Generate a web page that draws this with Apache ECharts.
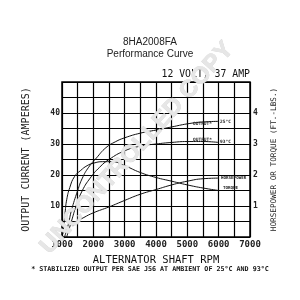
<!DOCTYPE html>
<html>
<head>
<meta charset="utf-8">
<script src="https://cdn.jsdelivr.net/npm/echarts@6/dist/echarts.min.js"></script>
<style>
html,body{margin:0;padding:0;background:#fff;}
#chart{width:300px;height:300px;}
</style>
</head>
<body>
<div id="chart"></div>
<script>
// 数据 (rpm, 值)
var out25 = [[1080,0],[1200,4],[1300,8.5],[1500,15],[1650,19],[1850,22.5],[2100,25.5],[2400,28.8],[2700,30.7],[3000,32],[3500,33.5],[4000,34.5],[4500,35.5],[5000,36.5],[5500,37.1],[6000,37.3]];
var out93 = [[1150,0],[1300,5],[1450,10],[1650,15],[1900,19],[2200,22.5],[2500,25],[3000,27.8],[3500,29.3],[4000,30],[4500,30.5],[5000,30.8],[5500,30.8],[6000,30.5]];
var torque = [[1030,1],[1100,8],[1150,12],[1250,16],[1400,19.5],[1600,21.5],[1800,23],[2000,23.8],[2300,24.3],[2600,24.3],[3000,23],[3500,20.8],[4000,19.2],[4500,18],[5000,16.8],[5500,15.8],[6000,15]];
var horsepower = [[1350,3.5],[1400,4.5],[1700,6.3],[2000,7.8],[2500,9.7],[3000,11.8],[3500,13.8],[4000,15.3],[4500,16.8],[5000,18],[5500,18.8],[6000,19]];
var xLabels = [1000,2000,3000,4000,5000,6000,7000];
var leftLabels = [10,20,30,40];
var rightLabels = [1,2,3,4];

var mono = '"DejaVu Sans Mono", monospace';
var myChart = echarts.init(document.getElementById('chart'));

function line(d){
    return {
        type: 'line',
        data: d,
        smooth: true,
        symbol: 'none',
        lineStyle: {color: '#111', width: 1},
        z: 5
    };
}

option = {
    animation: false,
    backgroundColor: '#fff',
    grid: {
        left: 62, right: 50, top: 82, bottom: 63,
        show: true, borderColor: '#000', borderWidth: 1.5
    },
    xAxis: {
        type: 'value', min: 1000, max: 7000, interval: 500,
        name: 'ALTERNATOR SHAFT RPM',
        nameLocation: 'middle', nameGap: 18,
        nameTextStyle: {fontFamily: mono, fontSize: 10.5, color: '#111'},
        axisLine: {show: false}, axisTick: {show: false},
        axisLabel: {
            margin: 3, fontFamily: mono, fontSize: 9, fontWeight: 'bold', color: '#222',
            formatter: function(v){ return xLabels.indexOf(v) >= 0 ? String(v) : ''; }
        },
        splitLine: {lineStyle: {color: '#000', width: 1.2}}
    },
    yAxis: [{
        type: 'value', min: 0, max: 50, interval: 5,
        name: 'OUTPUT CURRENT (AMPERES)',
        nameLocation: 'middle', nameGap: 31, nameRotate: 90,
        nameTextStyle: {fontFamily: mono, fontSize: 10, color: '#222'},
        axisLine: {show: false}, axisTick: {show: false},
        axisLabel: {
            margin: 2, fontFamily: mono, fontSize: 8, fontWeight: 'bold', color: '#222',
            formatter: function(v){ return leftLabels.indexOf(v) >= 0 ? String(v) : ''; }
        },
        splitLine: {lineStyle: {color: '#000', width: 1.2}}
    }, {
        type: 'value', min: 0, max: 5, interval: 0.5,
        position: 'right',
        name: 'HORSEPOWER OR TORQUE (FT.-LBS.)',
        nameLocation: 'middle', nameGap: 20, nameRotate: 90,
        nameTextStyle: {fontFamily: mono, fontSize: 7.7, color: '#222'},
        axisLine: {show: false}, axisTick: {show: false},
        axisLabel: {
            margin: 3, fontFamily: mono, fontSize: 8, fontWeight: 'bold', color: '#222',
            formatter: function(v){ return rightLabels.indexOf(v) >= 0 ? String(v) : ''; }
        },
        splitLine: {show: false}
    }],
    series: [line(out25), line(out93), line(torque), line(horsepower)],
    graphic: [
        {type: 'text', left: 'center', top: 37, style: {text: '8HA2008FA', font: '10px "Liberation Sans"', fill: '#222'}},
        {type: 'text', left: 'center', top: 49, style: {text: 'Performance Curve', font: '10px "Liberation Sans"', fill: '#222'}},
        {type: 'text', right: 50, top: 69, style: {text: '12 VOLT, 37 AMP', font: '9.8px "DejaVu Sans Mono"', fill: '#111'}},
        {type: 'text', left: 'center', top: 266, style: {text: '* STABILIZED OUTPUT PER SAE J56 AT AMBIENT OF 25°C AND 93°C', font: 'bold 6.7px "DejaVu Sans Mono"', fill: '#111'}},
        {type: 'text', x: 193, y: 121, z: 10, style: {text: 'OUTPUT*', font: 'bold 4.5px "DejaVu Sans Mono"', fill: '#222'}},
        {type: 'text', x: 220, y: 119, z: 10, style: {text: '25°C', font: 'bold 4.5px "DejaVu Sans Mono"', fill: '#222'}},
        {type: 'text', x: 193, y: 137, z: 10, style: {text: 'OUTPUT*', font: 'bold 4.5px "DejaVu Sans Mono"', fill: '#222'}},
        {type: 'text', x: 220, y: 139, z: 10, style: {text: '93°C', font: 'bold 4.5px "DejaVu Sans Mono"', fill: '#222'}},
        {type: 'text', x: 221, y: 176, z: 10, style: {text: 'HORSEPOWER', font: 'bold 4.2px "DejaVu Sans Mono"', fill: '#222'}},
        {type: 'text', x: 223, y: 186, z: 10, style: {text: 'TORQUE', font: 'bold 4.2px "DejaVu Sans Mono"', fill: '#222'}},
        // 水印
        {type: 'text', x: 137, y: 148, rotation: Math.PI * 48 / 180, z: 100,
         style: {text: 'UNCONTROLLED COPY', font: 'bold 24px "Liberation Sans"', fill: '#e6e6e6', stroke: '#d4d4d4', lineWidth: 0.6, align: 'center', verticalAlign: 'middle'}}
    ]
};
myChart.setOption(option, true);
</script>
</body>
</html>
